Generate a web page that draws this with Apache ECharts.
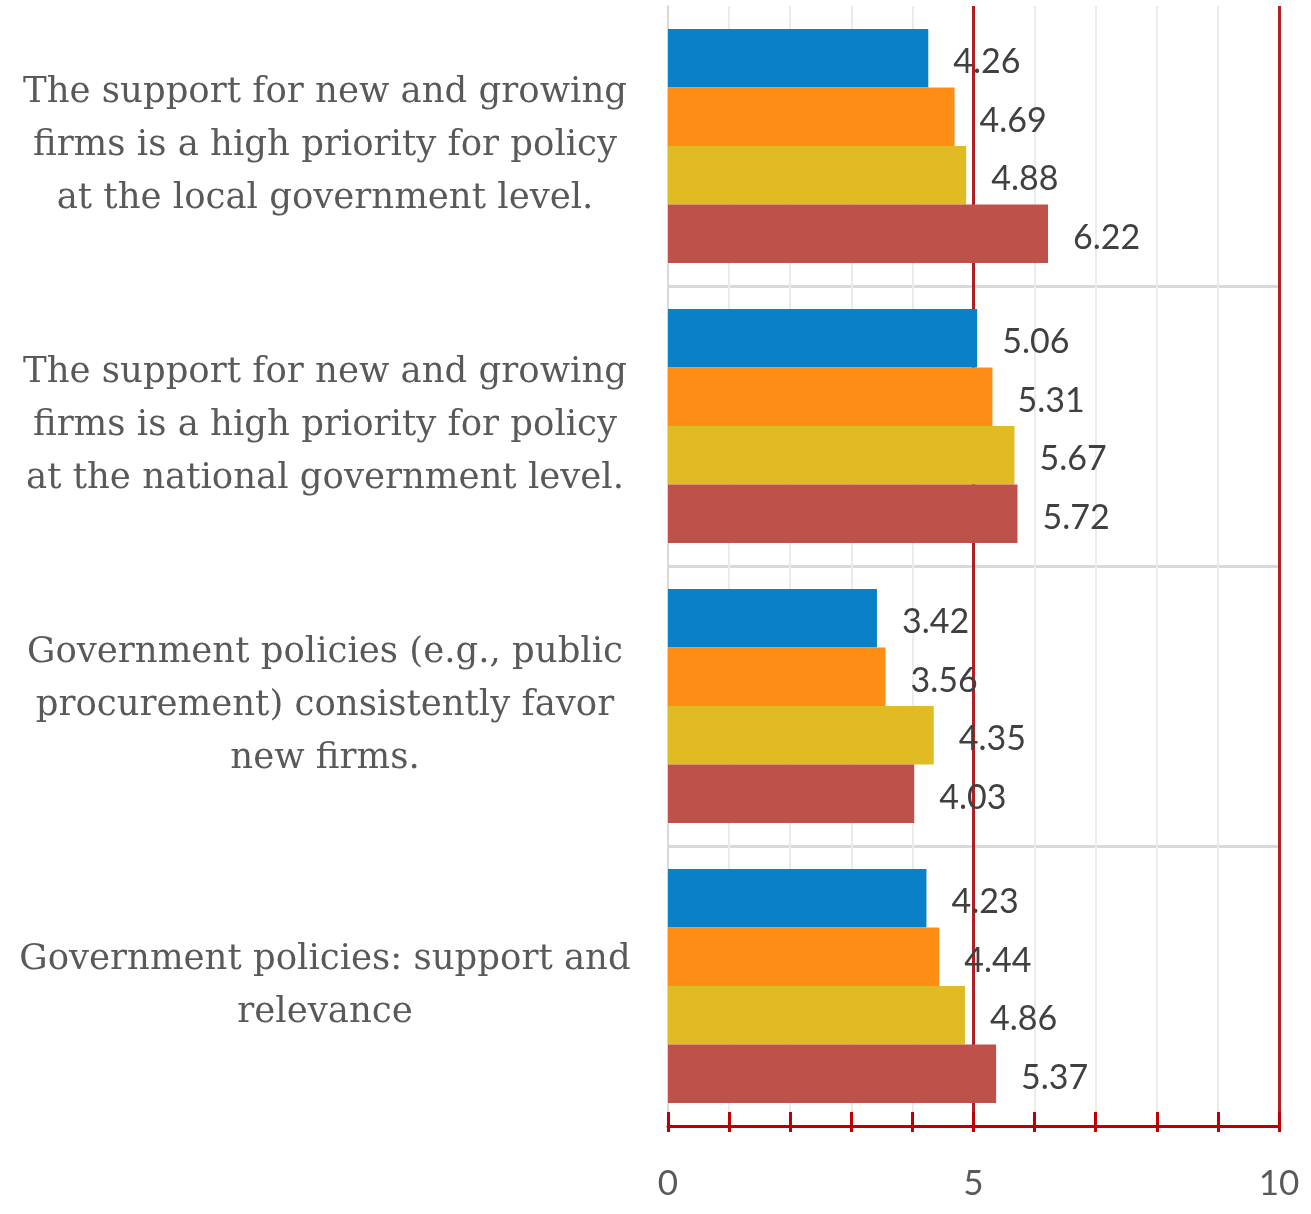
<!DOCTYPE html>
<html>
<head>
<meta charset="utf-8">
<script src="https://cdn.jsdelivr.net/npm/echarts@6/dist/echarts.min.js"></script>
<style>
html,body{margin:0;padding:0;background:#fff;}
#main{width:1311px;height:1214px;}
</style>
</head>
<body>
<div id="main"></div>
<script>
const categories = [
  'The support for new and growing\nfirms is a high priority for policy\nat the local government level.',
  'The support for new and growing\nfirms is a high priority for policy\nat the national government level.',
  'Government policies (e.g., public\nprocurement) consistently favor\nnew firms.',
  'Government policies: support and\nrelevance'
];
const seriesA = [4.26, 5.06, 3.42, 4.23];
const seriesB = [4.69, 5.31, 3.56, 4.44];
const seriesC = [4.88, 5.67, 4.35, 4.86];
const seriesD = [6.22, 5.72, 4.03, 5.37];
const seriesColors = ['#0a80c9', '#fd8d14', '#e0bb24', '#be524a'];
const xTickLabels = ['0', '5', '10'];

const chart = echarts.init(document.getElementById('main'));
const grid = {left: 668, right: 32, top: 6, bottom: 88};

function mkSeries(name, data, color) {
  return {
    name: name,
    type: 'bar',
    data: data,
    barGap: '0%',
    barCategoryGap: '16.4%',
    itemStyle: {color: color},
    label: {
      show: true,
      position: 'right',
      distance: 25,
      offset: [0, 4],
      color: '#404040',
      fontFamily: 'Lato',
      fontSize: 34,
      formatter: p => p.value.toFixed(2)
    },
    z: 3
  };
}

chart.setOption({
  animation: false,
  backgroundColor: '#ffffff',
  grid: grid,
  xAxis: [
    {
      type: 'value', min: 0, max: 10, interval: 1, position: 'bottom',
      axisLine: {show: true, lineStyle: {color: '#c00000', width: 3}},
      axisTick: {show: true, inside: true, length: 14, lineStyle: {color: '#c00000', width: 3}},
      axisLabel: {
        show: true, margin: 40, color: '#595959', fontFamily: 'Lato', fontSize: 35,
        formatter: v => (xTickLabels.indexOf(String(v)) >= 0 ? String(v) : '')
      },
      splitLine: {show: true, showMinLine: false, showMaxLine: false, lineStyle: {color: '#ebebeb', width: 2}}
    },
    {
      type: 'value', min: 0, max: 10, interval: 1, position: 'bottom',
      axisLine: {show: false},
      axisTick: {show: true, inside: false, length: 6, lineStyle: {color: '#c00000', width: 3}},
      axisLabel: {show: false},
      splitLine: {show: false}
    },
    {
      type: 'value', min: 0, max: 10, interval: 5, position: 'bottom',
      axisLine: {show: false},
      axisTick: {show: false},
      axisLabel: {show: false},
      splitLine: {show: true, showMinLine: false, showMaxLine: true, lineStyle: {color: '#b01f24', width: 3}}
    }
  ],
  yAxis: {
    type: 'category',
    data: categories,
    inverse: true,
    axisLine: {show: true, lineStyle: {color: '#d9d9d9', width: 2}},
    axisTick: {show: false},
    splitLine: {show: true, showMinLine: false, showMaxLine: false, lineStyle: {color: '#d9d9d9', width: 3}},
    axisLabel: {
      align: 'center',
      margin: 343,
      color: '#595959',
      fontFamily: 'DejaVu Serif',
      fontSize: 35.5,
      lineHeight: 53
    }
  },
  series: [
    mkSeries('A', seriesA, seriesColors[0]),
    mkSeries('B', seriesB, seriesColors[1]),
    mkSeries('C', seriesC, seriesColors[2]),
    mkSeries('D', seriesD, seriesColors[3])
  ]
});
</script>
</body>
</html>
